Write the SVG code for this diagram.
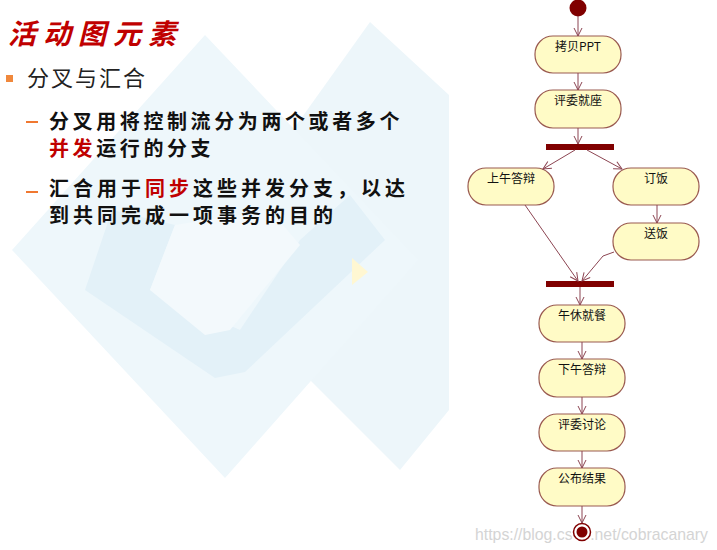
<svg xmlns="http://www.w3.org/2000/svg" width="717" height="550" viewBox="0 0 717 550">
<defs>
<style>
.node rect{fill:#fffbc6;stroke:#9a5a50;stroke-width:1.2}
.node text{font-family:"Noto Sans CJK SC","Liberation Sans",sans-serif;font-size:12px;fill:#111;text-anchor:middle}
.conn line,.conn polyline{stroke:#8c4552;stroke-width:1;fill:none;marker-end:url(#arr)}
.bar{fill:#800000}
.sub{font-family:"Noto Sans CJK SC",sans-serif;font-size:20px;font-weight:700;fill:#111}
.red{fill:#c00000}
</style>
<marker id="arr" markerWidth="10" markerHeight="10" refX="9" refY="4.5" orient="auto" markerUnits="userSpaceOnUse">
<path d="M1,0.5 L9,4.5 L1,8.5" fill="none" stroke="#8c4552" stroke-width="1"/>
</marker>
</defs>
<rect width="717" height="550" fill="#ffffff"/>
<g id="background">
<polygon points="370,22 449,95 449,410 400,470 300,370 250,190" fill="#edf6fa"/>
<polygon points="205,35 418,260 225,478 12,250" fill="#eef7fb"/>
<polygon points="112,210 85,290 215,378 245,372 385,240 350,195 300,240 240,330 150,290 175,225" fill="#e3f1f8"/>
<polygon points="175,225 150,290 205,335 230,330 300,245 270,210" fill="#f3f9fc"/>
<polygon points="352,258 368,272 352,285" fill="#fff7d2"/>
</g>
<g id="title">
<text x="8" y="44" font-family="Noto Sans CJK SC,sans-serif" font-size="28" font-weight="700" font-style="italic" letter-spacing="7" fill="#c00000">活动图元素</text>
</g>
<g id="bullets">
<rect x="6" y="75" width="7" height="7" fill="#f0883c"/>
<text x="27" y="86" font-family="Noto Sans CJK SC,sans-serif" font-size="22" letter-spacing="2" fill="#222">分叉与汇合</text>
<line x1="26" y1="122" x2="38" y2="122" stroke="#f07830" stroke-width="2"/>
<text class="sub" x="49" y="129" letter-spacing="3.6">分叉用将控制流分为两个或者多个</text>
<text class="sub" x="49" y="156" letter-spacing="3.6"><tspan class="red">并发</tspan>运行的分支</text>
<line x1="26" y1="192" x2="38" y2="192" stroke="#f07830" stroke-width="2"/>
<text class="sub" x="49" y="196" letter-spacing="4">汇合用于<tspan class="red">同步</tspan>这些并发分支，以达</text>
<text class="sub" x="49" y="223" letter-spacing="4">到共同完成一项事务的目的</text>
</g>
<text id="watermark" x="475" y="540" font-family="Liberation Sans,sans-serif" font-size="17" textLength="233" lengthAdjust="spacingAndGlyphs" fill="#d4d4d4">https://blog.csdn.net/cobracanary</text>
<g id="start"><circle cx="578" cy="8" r="8.5" fill="#800000"/></g>
<g id="n1" class="node"><rect x="535" y="36" width="86" height="37" rx="18" ry="18"/><text x="578" y="51">拷贝PPT</text></g>
<g id="n2" class="node"><rect x="535" y="90" width="86" height="38" rx="18" ry="18"/><text x="578" y="105">评委就座</text></g>
<g id="fork"><rect class="bar" x="546" y="144" width="68" height="6"/></g>
<g id="n3" class="node"><rect x="468" y="168" width="86" height="37" rx="18" ry="18"/><text x="511" y="183">上午答辩</text></g>
<g id="n4" class="node"><rect x="613" y="168" width="86" height="37" rx="18" ry="18"/><text x="656" y="183">订饭</text></g>
<g id="n5" class="node"><rect x="613" y="223" width="86" height="37" rx="18" ry="18"/><text x="656" y="238">送饭</text></g>
<g id="join"><rect class="bar" x="546" y="281" width="68" height="6"/></g>
<g id="n6" class="node"><rect x="539" y="305" width="86" height="37" rx="18" ry="18"/><text x="582" y="320">午休就餐</text></g>
<g id="n7" class="node"><rect x="539" y="359" width="86" height="38" rx="18" ry="18"/><text x="582" y="374">下午答辩</text></g>
<g id="n8" class="node"><rect x="539" y="414" width="86" height="37" rx="18" ry="18"/><text x="582" y="429">评委讨论</text></g>
<g id="n9" class="node"><rect x="539" y="468" width="86" height="38" rx="18" ry="18"/><text x="582" y="483">公布结果</text></g>
<g id="end"><circle cx="582" cy="532" r="11" fill="#ffffff"/><circle cx="582" cy="532" r="8.5" fill="#ffffff" stroke="#800000" stroke-width="1.5"/><circle cx="582" cy="532" r="5.5" fill="#800000"/></g>
<g id="connectors" class="conn">
<line x1="578" y1="16" x2="578" y2="36"/>
<line x1="578" y1="73" x2="578" y2="90"/>
<line x1="578" y1="128" x2="578" y2="144"/>
<line x1="575" y1="150" x2="543" y2="169"/>
<line x1="587" y1="150" x2="622" y2="169"/>
<line x1="657" y1="205" x2="657" y2="223"/>
<line x1="525" y1="205" x2="578" y2="281"/>
<polyline points="614,252 603,256 582,281"/>
<line x1="580" y1="287" x2="580" y2="305"/>
<line x1="582" y1="342" x2="582" y2="359"/>
<line x1="582" y1="397" x2="582" y2="414"/>
<line x1="582" y1="451" x2="582" y2="468"/>
<line x1="582" y1="506" x2="582" y2="523"/>
</g>
</svg>
